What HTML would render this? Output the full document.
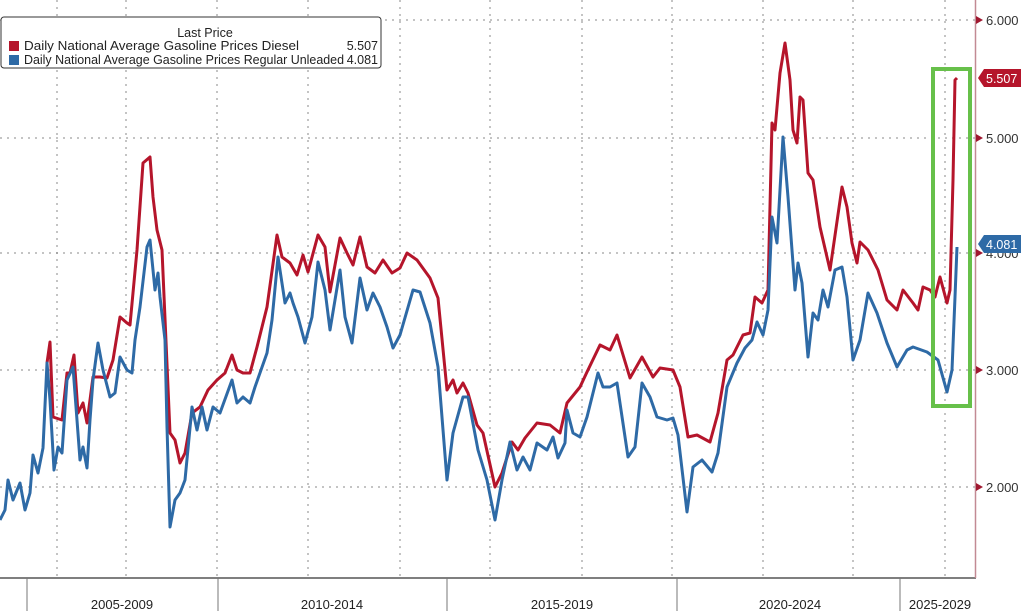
<!DOCTYPE html>
<html><head><meta charset="utf-8"><style>
body{margin:0;background:#fff;}
svg{display:block;font-family:"Liberation Sans",sans-serif;}
</style></head><body>
<svg width="1024" height="611" viewBox="0 0 1024 611">
<rect width="1024" height="611" fill="#fff"/>
<g stroke="#888" stroke-width="1" stroke-dasharray="2,5">
<line x1="0" y1="20" x2="975" y2="20"/>
<line x1="0" y1="138" x2="975" y2="138"/>
<line x1="0" y1="253" x2="975" y2="253"/>
<line x1="0" y1="370" x2="975" y2="370"/>
<line x1="0" y1="487" x2="975" y2="487"/>
<line x1="57" y1="0" x2="57" y2="578"/>
<line x1="126" y1="0" x2="126" y2="578"/>
<line x1="217" y1="0" x2="217" y2="578"/>
<line x1="308" y1="0" x2="308" y2="578"/>
<line x1="400" y1="0" x2="400" y2="578"/>
<line x1="490" y1="0" x2="490" y2="578"/>
<line x1="582" y1="0" x2="582" y2="578"/>
<line x1="672" y1="0" x2="672" y2="578"/>
<line x1="763" y1="0" x2="763" y2="578"/>
<line x1="853" y1="0" x2="853" y2="578"/>
<line x1="945" y1="0" x2="945" y2="578"/>
</g>
<line x1="0" y1="578" x2="976" y2="578" stroke="#555" stroke-width="1.5"/>
<line x1="975.5" y1="0" x2="975.5" y2="578" stroke="#c28a94" stroke-width="1.5"/>
<g stroke="#777" stroke-width="1">
<line x1="27" y1="578" x2="27" y2="611"/><line x1="218" y1="578" x2="218" y2="611"/>
<line x1="447" y1="578" x2="447" y2="611"/><line x1="677" y1="578" x2="677" y2="611"/>
<line x1="900" y1="578" x2="900" y2="611"/>
</g>
<g fill="#222" font-size="13" text-anchor="middle">
<text x="122" y="609">2005-2009</text><text x="332" y="609">2010-2014</text>
<text x="562" y="609">2015-2019</text><text x="790" y="609">2020-2024</text>
<text x="940" y="609">2025-2029</text>
</g>
<g fill="#a01830"><polygon points="976,16 983,20 976,24"/><polygon points="976,134 983,138 976,142"/><polygon points="976,249 983,253 976,257"/><polygon points="976,366 983,370 976,374"/><polygon points="976,483 983,487 976,491"/></g>
<g fill="#333" font-size="13">
<text x="986" y="25">6.000</text><text x="986" y="143">5.000</text><text x="986" y="258">4.000</text>
<text x="986" y="375">3.000</text><text x="986" y="492">2.000</text>
</g>
<polyline fill="none" stroke="#b5152b" stroke-width="3" stroke-linejoin="round" points="47,363 50,342 53,417 62,420 67,373 70,373 74,355 78,413 83,403 87,423 93,377 100,377 107,378 113,360 120,317 127,323 130,325 137,250 143,163 150,157 153,197 157,230 162,250 170,433 175,440 180,463 185,453 192,413 200,407 208,390 217,380 225,373 232,355 237,370 243,373 250,373 257,347 267,307 277,235 282,257 290,263 297,275 303,255 308,272 318,235 325,247 330,292 340,238 347,253 353,265 360,237 367,267 375,273 383,260 392,273 400,268 407,253 417,260 430,278 438,298 447,390 453,380 457,393 463,383 468,393 477,425 483,433 495,487 502,473 512,442 518,450 525,438 537,423 550,425 560,433 567,403 580,387 587,372 600,345 610,350 617,335 630,378 642,357 653,377 660,368 673,370 680,387 688,437 697,435 710,442 718,413 727,360 733,355 743,335 750,333 755,297 762,303 768,290 772,123 775,130 780,73 785,43 790,80 793,130 797,143 800,97 803,100 808,173 813,180 820,227 830,270 842,187 847,207 852,243 857,263 860,242 868,250 878,270 887,300 897,310 903,290 913,303 918,310 923,287 930,290 935,297 940,277 947,303 950,290 953,180 955,80 957,78"/>
<polyline fill="none" stroke="#2e6aa6" stroke-width="3" stroke-linejoin="round" points="0,520 5,510 8,480 13,500 20,483 25,510 30,493 33,455 38,473 43,448 47,363 50,400 54,470 58,447 62,453 67,380 73,367 80,460 83,447 87,468 90,420 93,380 98,343 103,370 110,397 115,393 120,357 127,370 132,373 135,340 140,307 147,247 150,240 155,290 158,273 160,297 165,340 167,427 170,527 175,500 180,493 185,480 192,407 197,430 202,407 207,430 213,407 220,413 232,380 237,403 243,397 250,403 255,387 267,353 272,320 278,257 285,303 290,293 293,303 298,317 305,343 312,317 318,262 325,290 330,330 340,270 345,317 352,343 360,278 367,310 373,293 380,307 387,327 393,348 400,335 413,290 420,292 430,323 438,367 447,480 453,433 463,397 468,397 478,450 487,480 495,520 502,480 510,442 517,470 523,457 530,470 537,443 547,450 553,437 558,458 565,443 567,410 573,433 580,437 587,417 598,373 603,387 610,387 617,383 628,457 635,447 642,383 650,397 657,417 667,420 673,418 678,435 687,512 693,467 702,460 712,472 718,453 727,387 737,363 745,348 752,340 757,322 763,335 768,310 772,217 777,243 783,137 788,197 795,290 798,263 802,283 808,357 813,313 818,320 823,290 828,307 835,270 842,267 847,297 853,360 860,340 868,293 877,313 887,343 897,367 907,350 913,347 927,352 938,360 947,392 952,370 955,297 957,247"/>
<rect x="933" y="69" width="37" height="337" fill="none" stroke="#67c04a" stroke-width="4"/>
<polygon points="978,78 984,69 1021,69 1021,87 984,87" fill="#b5152b"/>
<text x="986" y="83" fill="#fff" font-size="12.5">5.507</text>
<polygon points="978,244 984,235 1021,235 1021,253 984,253" fill="#2e6aa6"/>
<text x="986" y="249" fill="#fff" font-size="12.5">4.081</text>
<rect x="1" y="17" width="380" height="51" rx="3" fill="#fff" stroke="#333" stroke-width="1"/>
<text x="205" y="37" font-size="12.5" fill="#222" text-anchor="middle">Last Price</text>
<rect x="9" y="41" width="10" height="10" fill="#b5152b"/>
<rect x="9" y="55" width="10" height="10" fill="#2e6aa6"/>
<g font-size="12.5" fill="#222">
<text x="24" y="50" textLength="275" lengthAdjust="spacingAndGlyphs">Daily National Average Gasoline Prices Diesel</text>
<text x="24" y="64" textLength="320" lengthAdjust="spacingAndGlyphs">Daily National Average Gasoline Prices Regular Unleaded</text>
<text x="378" y="50" text-anchor="end">5.507</text>
<text x="378" y="64" text-anchor="end">4.081</text>
</g>
</svg>
</body></html>
